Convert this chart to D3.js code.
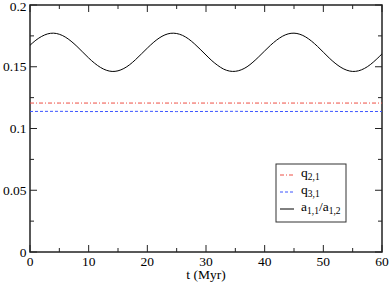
<!DOCTYPE html>
<html>
<head>
<meta charset="utf-8">
<script src="https://cdn.jsdelivr.net/npm/d3@7"></script>
<style>
  body { margin: 0; background: #fff; }
</style>
</head>
<body>
<div id="chart"></div>
<script>
// time samples (Myr)
var times = d3.range(0, 61, 1);
// a_{1,1}/a_{1,2}, every 1 Myr
var ratioVals = [
  0.1674, 0.1715, 0.1746, 0.1766, 0.1772, 0.1763, 0.1741, 0.1707, 0.1665, 0.1618,
  0.1571, 0.1529, 0.1495, 0.1472, 0.1462, 0.1467, 0.1486, 0.1517, 0.1558, 0.1604,
  0.1651, 0.1695, 0.1732, 0.1758, 0.1771, 0.1769, 0.1754, 0.1726, 0.1687, 0.1642,
  0.1595, 0.1549, 0.1511, 0.1481, 0.1465, 0.1463, 0.1475, 0.1500, 0.1537, 0.1581,
  0.1628, 0.1674, 0.1714, 0.1746, 0.1766, 0.1772, 0.1763, 0.1741, 0.1707, 0.1665,
  0.1618, 0.1571, 0.1529, 0.1495, 0.1472, 0.1462, 0.1467, 0.1486, 0.1517, 0.1558,
  0.1604
];
// q2,1 and q3,1 sampled every 5 Myr
var qTimes = [0, 5, 10, 15, 20, 25, 30, 35, 40, 45, 50, 55, 60];
var q21Vals = [0.1206, 0.1206, 0.1206, 0.1206, 0.1206, 0.1206, 0.1206, 0.1206, 0.1206, 0.1206, 0.1206, 0.1206, 0.1206];
var q31Vals = [0.1138, 0.1139, 0.1137, 0.1138, 0.1139, 0.1137, 0.1138, 0.1139, 0.1137, 0.1138, 0.1139, 0.1137, 0.1138];

var xMajor = [0, 10, 20, 30, 40, 50, 60];
var yMajor = [0, 0.05, 0.1, 0.15, 0.2];
var yLabels = ["0", "0.05", "0.1", "0.15", "0.2"];

var width = 390, height = 284;
var margin = { left: 30, right: 8, top: 5, bottom: 32 };
var x0 = margin.left, x1 = width - margin.right;
var y0 = height - margin.bottom, y1 = margin.top;
var serif = "'Liberation Serif', 'Times New Roman', serif";

var svg = d3.select("#chart").append("svg")
  .attr("width", width)
  .attr("height", height)
  .attr("font-family", serif);

var x = d3.scaleLinear().domain([0, 60]).range([x0, x1]);
var y = d3.scaleLinear().domain([0, 0.2]).range([y0, y1]);

var axisColor = "#222";
var majorLen = 7, minorLen = 4;
var ticks = svg.append("g").attr("stroke", axisColor).attr("stroke-width", 1);

// x ticks (bottom & top, inward)
d3.range(0, 61, 5).forEach(function(t) {
  var len = t % 10 === 0 ? majorLen : minorLen;
  ticks.append("line").attr("x1", x(t)).attr("x2", x(t)).attr("y1", y0).attr("y2", y0 - len);
  ticks.append("line").attr("x1", x(t)).attr("x2", x(t)).attr("y1", y1).attr("y2", y1 + len);
});
// y ticks (left & right, inward)
d3.range(0, 9).forEach(function(i) {
  var v = i * 0.025;
  var len = i % 2 === 0 ? majorLen : minorLen;
  ticks.append("line").attr("y1", y(v)).attr("y2", y(v)).attr("x1", x0).attr("x2", x0 + len);
  ticks.append("line").attr("y1", y(v)).attr("y2", y(v)).attr("x1", x1).attr("x2", x1 - len);
});

// frame
svg.append("rect")
  .attr("x", x0).attr("y", y1)
  .attr("width", x1 - x0).attr("height", y0 - y1)
  .attr("fill", "none")
  .attr("stroke", axisColor)
  .attr("stroke-width", 1.5);

// tick labels
svg.selectAll(".xlab").data(xMajor).enter().append("text")
  .attr("class", "xlab")
  .attr("x", d => x(d))
  .attr("y", y0 + 13.5)
  .attr("text-anchor", "middle")
  .attr("font-size", 13.5)
  .text(d => d);

svg.selectAll(".ylab").data(yMajor).enter().append("text")
  .attr("class", "ylab")
  .attr("x", x0 - 3.5)
  .attr("y", (d, i) => Math.max(y(d) + 4.5, 11))
  .attr("text-anchor", "end")
  .attr("font-size", 13.5)
  .text((d, i) => yLabels[i]);

svg.append("text")
  .attr("x", (x0 + x1) / 2)
  .attr("y", y0 + 26.5)
  .attr("text-anchor", "middle")
  .attr("font-size", 13.5)
  .text("t (Myr)");

// series
var line = d3.line().x(d => x(d[0])).y(d => y(d[1]));

svg.append("path")
  .datum(qTimes.map((t, i) => [t, q21Vals[i]]))
  .attr("d", line)
  .attr("fill", "none")
  .attr("stroke", "#ee4f44")
  .attr("stroke-width", 1)
  .attr("stroke-dasharray", "4,2,1,2");

svg.append("path")
  .datum(qTimes.map((t, i) => [t, q31Vals[i]]))
  .attr("d", line.curve(d3.curveMonotoneX))
  .attr("fill", "none")
  .attr("stroke", "#3d55ff")
  .attr("stroke-width", 1)
  .attr("stroke-dasharray", "3,2");

svg.append("path")
  .datum(times.map((t, i) => [t, ratioVals[i]]))
  .attr("d", line.curve(d3.curveCardinal))
  .attr("fill", "none")
  .attr("stroke", "#000")
  .attr("stroke-width", 1);

// legend
var legend = svg.append("g").attr("transform", "translate(276,164)");
legend.append("rect")
  .attr("width", 70).attr("height", 58)
  .attr("fill", "#fff")
  .attr("stroke", "#333")
  .attr("stroke-width", 1);

var legendItems = [
  { color: "#ee4f44", dash: "4,2,1,2", main: "q", subs: ["2,1"] },
  { color: "#3d55ff", dash: "3,2", main: "q", subs: ["3,1"] },
  { color: "#000", dash: null, main: "a", subs: ["1,1", "1,2"] }
];
legendItems.forEach(function(item, i) {
  var ly = 11 + i * 17;
  legend.append("line")
    .attr("x1", 4).attr("x2", 18)
    .attr("y1", ly).attr("y2", ly)
    .attr("stroke", item.color)
    .attr("stroke-width", 1)
    .attr("stroke-dasharray", item.dash);
  var txt = legend.append("text")
    .attr("x", 25).attr("y", ly + 2)
    .attr("font-size", 13.5);
  txt.append("tspan").text(item.main);
  txt.append("tspan").attr("font-size", 9.5).attr("dy", 3).text(item.subs[0]);
  if (item.subs.length > 1) {
    txt.append("tspan").attr("dy", -3).text("/a");
    txt.append("tspan").attr("font-size", 9.5).attr("dy", 3).text(item.subs[1]);
  }
});
</script>
</body>
</html>
